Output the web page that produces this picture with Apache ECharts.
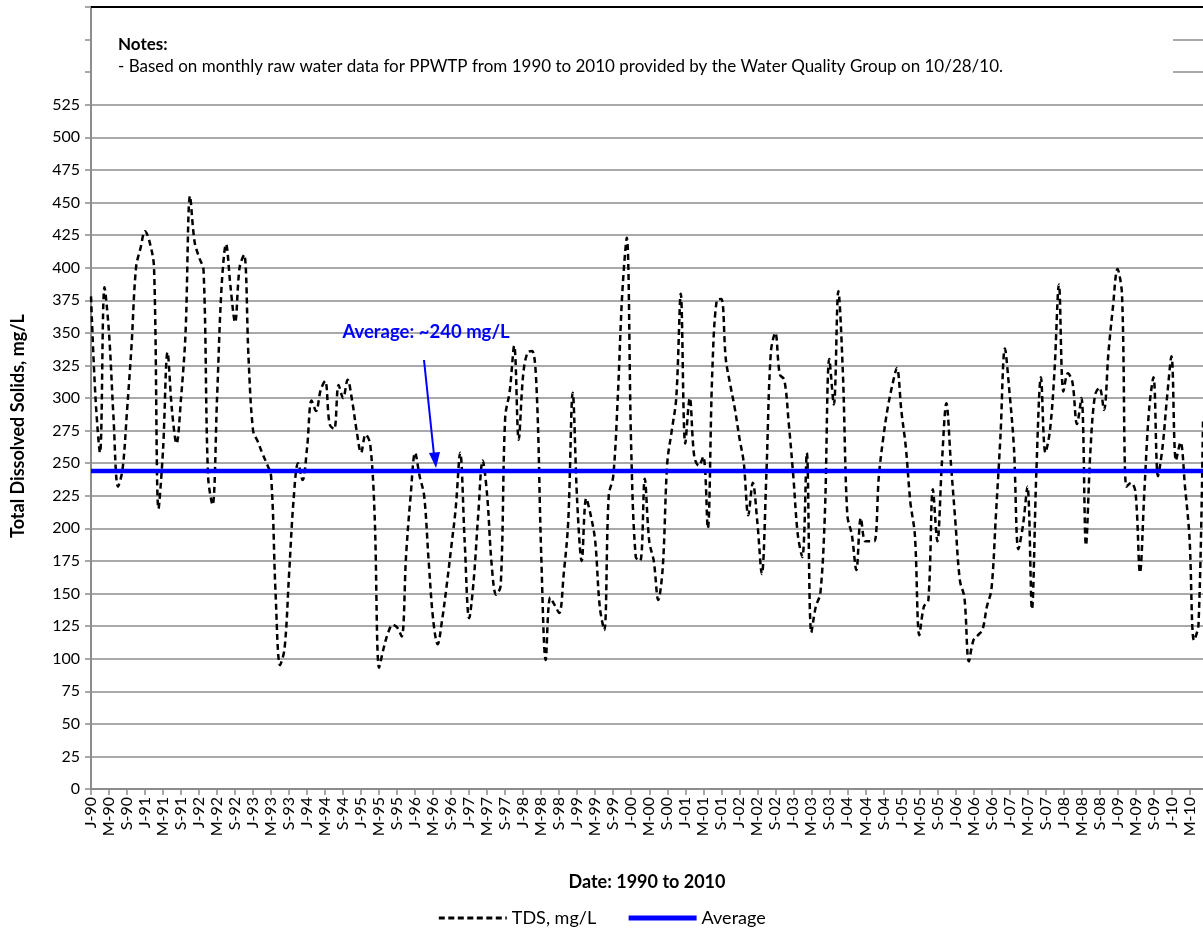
<!DOCTYPE html>
<html>
<head>
<meta charset="utf-8">
<script src="https://cdn.jsdelivr.net/npm/echarts@6/dist/echarts.min.js"></script>
<style>
html,body{margin:0;padding:0;background:#fff;}
#chart{width:1203px;height:950px;}
</style>
</head>
<body>
<div id="chart"></div>
<script>
// ---- data (monthly TDS, Jan 1990 .. Aug 2010) ----
var startYear = 1990;
var monthLetters = ['J','F','M','A','M','J','J','A','S','O','N','D'];
var tds = [
 378,300,258,385,350,285,232,245,290,340,400,415,   // 1990
 428,420,400,215,260,335,290,265,300,350,455,420,   // 1991
 408,398,240,218,300,385,418,385,358,400,410,330,   // 1992
 275,267,258,250,240,150,95,108,165,222,250,237,    // 1993
 262,298,290,306,313,280,276,310,300,314,298,275,   // 1994
 258,272,265,210,93,108,120,126,124,117,180,225,    // 1995
 258,240,225,175,130,111,130,156,185,215,258,190,   // 1996
 131,160,210,252,225,172,149,156,285,305,340,268,   // 1997
 318,335,336,305,180,99,147,141,135,165,205,304,    // 1998
 220,175,223,210,190,140,122,225,240,300,380,423,   // 1999
 260,178,175,238,190,175,145,170,250,275,300,380,   // 2000
 265,300,255,248,255,200,320,375,376,330,310,292,   // 2001
 270,250,210,235,205,165,240,335,350,318,314,280,   // 2002
 240,195,178,258,120,140,150,210,330,295,382,320,   // 2003
 210,195,168,208,190,190,190,240,270,293,310,323,   // 2004
 290,262,220,195,118,140,145,230,190,250,296,250,   // 2005
 205,160,147,98,114,118,122,140,153,210,270,338,    // 2006
 305,262,184,202,232,138,245,316,258,275,320,387,   // 2007
 305,319,312,280,300,187,260,302,308,291,335,370,   // 2008
 399,380,232,235,228,166,230,290,316,240,262,300,   // 2009
 332,252,266,232,193,114,126,284                    // 2010
];
var averageValue = 244;
var yTickMax = 525;

var categories = [];
for (var i = 0; i < tds.length; i++) {
  var y = startYear + Math.floor(i / 12);
  var m = i % 12;
  categories.push(y + '-' + (m + 1 < 10 ? '0' : '') + (m + 1));
}
var averageData = tds.map(function () { return averageValue; });

var FONT = 'Lato, "Liberation Sans", sans-serif';
var chart = echarts.init(document.getElementById('chart'));
chart.setOption({
  animation: false,
  backgroundColor: '#ffffff',
  textStyle: {fontFamily: FONT, color: '#000'},
  grid: {left: 91, right: 0, top: 7, bottom: 161, containLabel: false},
  legend: {
    bottom: 18, left: 'center',
    itemWidth: 68, itemHeight: 14, itemGap: 30,
    itemStyle: {opacity: 0},
    textStyle: {fontFamily: FONT, fontSize: 18, color: '#000'},
    data: [
      {name: 'TDS, mg/L', lineStyle: {width: 3, type: [6, 3.5], color: '#000'}},
      {name: 'Average', lineStyle: {width: 5, color: '#0000ff'}}
    ]
  },
  xAxis: {
    type: 'category',
    boundaryGap: false,
    data: categories,
    name: 'Date: 1990 to 2010',
    nameLocation: 'middle',
    nameGap: 84,
    nameTextStyle: {fontFamily: FONT, fontSize: 18, fontWeight: 'bold', color: '#000'},
    axisLine: {lineStyle: {color: '#8c8c8c', width: 2}},
    axisTick: {show: true, interval: 3, length: 6, lineStyle: {color: '#8c8c8c', width: 1.5}},
    axisLabel: {
      interval: 3, rotate: 90, fontSize: 16, color: '#000', fontFamily: FONT, margin: 8,
      formatter: function (v) {
        var p = v.split('-');
        return monthLetters[parseInt(p[1], 10) - 1] + '-' + p[0].slice(2);
      }
    },
    splitLine: {show: false}
  },
  yAxis: {
    type: 'value',
    min: 0, max: 600, interval: 25,
    axisLine: {show: true, lineStyle: {color: '#8c8c8c', width: 2}},
    axisTick: {show: true, length: 6, lineStyle: {color: '#8c8c8c', width: 1.5}},
    axisLabel: {
      fontSize: 16, color: '#000', fontFamily: FONT, margin: 11,
      formatter: function (v) { return v <= yTickMax ? String(v) : ''; }
    },
    splitLine: {show: true, lineStyle: {color: '#8c8c8c', width: 1.5}}
  },
  series: [
    {
      name: 'TDS, mg/L',
      type: 'line',
      data: tds,
      smooth: 0.35,
      symbol: 'none',
      lineStyle: {color: '#000', width: 2.5, type: [6, 4]},
      itemStyle: {color: '#000'},
      z: 3
    },
    {
      name: 'Average',
      type: 'line',
      data: averageData,
      symbol: 'none',
      lineStyle: {color: '#0000ff', width: 4.5},
      itemStyle: {color: '#0000ff'},
      z: 4
    }
  ],
  graphic: [
    {type: 'rect', shape: {x: 92, y: 8, width: 1081, height: 96}, style: {fill: '#fff'}, z: 10},
    {type: 'line', shape: {x1: 91, y1: 7, x2: 1203, y2: 7}, style: {stroke: '#000', lineWidth: 2}, z: 11},
    {type: 'text', left: 118, top: 36, z: 12,
      style: {text: 'Notes:', font: 'bold 17px ' + FONT, fill: '#000'}},
    {type: 'text', left: 118, top: 58, z: 12,
      style: {text: '- Based on monthly raw water data for PPWTP from 1990 to 2010 provided by the Water Quality Group on 10/28/10.', font: '17px ' + FONT, fill: '#000'}},
    {type: 'text', x: 18, y: 426, rotation: Math.PI / 2, z: 12,
      style: {text: 'Total Dissolved Solids, mg/L', font: 'bold 18px ' + FONT, fill: '#000', align: 'center', verticalAlign: 'middle'}},
    {type: 'text', x: 426, y: 332, z: 12,
      style: {text: 'Average: ~240 mg/L', font: 'bold 18.5px ' + FONT, fill: '#0000ff', align: 'center', verticalAlign: 'middle'}},
    {type: 'line', shape: {x1: 424, y1: 360, x2: 434, y2: 455}, style: {stroke: '#0000ff', lineWidth: 2}, z: 12},
    {type: 'polygon', shape: {points: [[429, 453], [440, 452], [436, 468]]}, style: {fill: '#0000ff'}, z: 12}
  ]
});
</script>
</body>
</html>
